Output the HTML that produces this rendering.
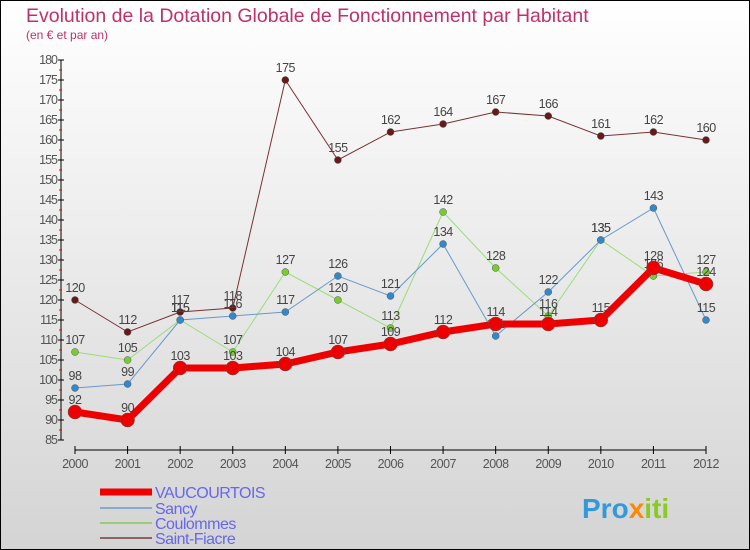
<!DOCTYPE html>
<html><head><meta charset="utf-8"><style>
body{margin:0}
#c{width:750px;height:550px;position:relative;box-sizing:border-box;border:1px solid #000;background:linear-gradient(#ffffff,#d4d4d4);font-family:"Liberation Sans",sans-serif;overflow:hidden}
</style></head><body>
<div id="c">
<svg id="s" width="748" height="548" viewBox="1 1 748 548" xmlns="http://www.w3.org/2000/svg">
<text x="26" y="22" font-size="19.5" fill="#c0306a">Evolution de la Dotation Globale de Fonctionnement par Habitant</text>
<text x="26" y="39" font-size="12" fill="#c0306a">(en € et par an)</text>
<g id="axes"></g><g id="series"></g><g id="legend"></g>
<text x="582" y="518" font-size="28" font-weight="bold" fill="#3399dd">Pro<tspan fill="#ff8800">x</tspan><tspan fill="#88cc22">iti</tspan></text>
</svg></div>
<script>
const years=[2000,2001,2002,2003,2004,2005,2006,2007,2008,2009,2010,2011,2012];
const yTicks=[85,90,95,100,105,110,115,120,125,130,135,140,145,150,155,160,165,170,175,180];
const vaucourtois=[92,90,103,103,104,107,109,112,114,114,115,128,124];
const sancy=[98,99,115,116,117,126,121,134,111,122,135,143,115];
const coulommes=[107,105,115,107,127,120,113,142,128,116,135,126,127];
const saintFiacre=[120,112,117,118,175,155,162,164,167,166,161,162,160];
const NS="http://www.w3.org/2000/svg";
const X=i=>75+i*(706-75)/(years.length-1);
const Y=v=>440-(v-85)*4;
function mk(t,a,p){const e=document.createElementNS(NS,t);for(const k in a)e.setAttribute(k,a[k]);p.appendChild(e);return e;}
const ax=document.getElementById('axes');
const yl=mk('line',{x1:61,y1:Y(180),x2:61,y2:Y(85),stroke:'#000'},ax);


yTicks.forEach((v,k)=>{
 mk('line',{x1:58,y1:Y(v),x2:64,y2:Y(v),stroke:'#000'},ax);
 if(k<yTicks.length-1) mk('line',{x1:59,y1:Y(v+2.5),x2:62,y2:Y(v+2.5),stroke:'#e00'},ax);
 const t=mk('text',{x:57,y:Y(v)+4,'font-size':12.5,fill:'#555','text-anchor':'end','letter-spacing':'-1'},ax);t.textContent=v;
 
 
});
const xl=mk('line',{x1:75,y1:450,x2:706,y2:450,stroke:'#000'},ax);


years.forEach((y,i)=>{
 mk('line',{x1:X(i),y1:446,x2:X(i),y2:454,stroke:'#000'},ax);
 const t=mk('text',{x:X(i),y:468,'font-size':12.5,fill:'#555','text-anchor':'middle','letter-spacing':'-0.5'},ax);t.textContent=y;
 
 
});
const sg=document.getElementById('series');
const defs=[
 {n:'saint-fiacre',d:saintFiacre,c:'#773333',w:1,r:3.5,f:'#661a1a'},
 {n:'coulommes',d:coulommes,c:'#99dd77',w:1,r:3.5,f:'#77cc33'},
 {n:'sancy',d:sancy,c:'#6699cc',w:1,r:3.5,f:'#3388cc'},
 {n:'vaucourtois',d:vaucourtois,c:'#ee0000',w:7,r:7,f:'#ee0000'}];
defs.forEach(s=>{
 const g=mk('g',{},sg);
 
 
 const pl=mk('polyline',{points:s.d.map((v,i)=>X(i)+','+Y(v)).join(' '),fill:'none',stroke:s.c,'stroke-width':s.w},g);
 
 
 s.d.forEach((v,i)=>{
  const c=mk('circle',{cx:X(i),cy:Y(v),r:s.r,fill:s.f,stroke:'#555','stroke-width':0.5},g);
  
  
  const t=mk('text',{x:X(i),y:Y(v)-8,'font-size':12.5,fill:'#444','text-anchor':'middle','letter-spacing':'-0.5'},g);t.textContent=v;
  
  
 });
});
const lg=document.getElementById('legend');
[['VAUCOURTOIS','#ee0000',7,492],['Sancy','#88aacc',2,508],['Coulommes','#99cc77',2,523],['Saint-Fiacre','#886666',2,538]].forEach(e=>{
 const g=mk('g',{},lg);
 
 
 mk('line',{x1:100,y1:e[3],x2:152,y2:e[3],stroke:e[1],'stroke-width':e[2]},g);
 const t=mk('text',{x:155,y:e[3]+6,'font-size':16,fill:'#6666ee','letter-spacing':'-0.5'},g);t.textContent=e[0];
});
</script>
</body></html>
